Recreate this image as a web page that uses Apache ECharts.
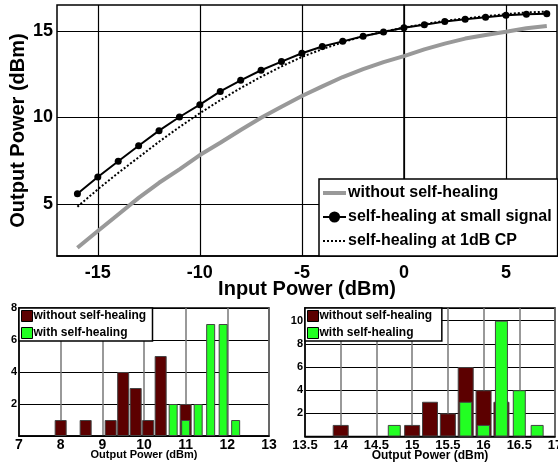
<!DOCTYPE html>
<html lang="en">
<head>
    <meta charset="utf-8"/>
    <title>Output power vs input power</title>
    <script src="https://cdn.jsdelivr.net/npm/echarts@6/dist/echarts.min.js"></script>
    <style>
        html, body {
            margin: 0;
            background: #FFFFFF;
        }

        #chart {
            width: 558px;
            height: 462px;
        }
    </style>
</head>
<body>
<div id="chart"></div>
<script>
    // top plot: output power against input power
    var inputPower = [-16, -15, -14, -13, -12, -11, -10, -9, -8, -7, -6, -5, -4, -3, -2, -1, 0, 1, 2, 3, 4, 5, 6, 7];
    var withoutHealing = [2.48, 3.44, 4.4, 5.36, 6.23, 7.0, 7.83, 8.54, 9.28, 9.99, 10.62, 11.24, 11.8, 12.34, 12.79, 13.2, 13.55, 13.94, 14.27, 14.56, 14.77, 14.96, 15.16, 15.29];
    var smallSignal = [5.6, 6.56, 7.47, 8.37, 9.24, 10.03, 10.74, 11.51, 12.15, 12.73, 13.23, 13.71, 14.1, 14.4, 14.69, 14.94, 15.19, 15.36, 15.54, 15.68, 15.79, 15.91, 15.96, 16.0];
    var oneDbCp = [4.85, 5.85, 6.8, 7.7, 8.6, 9.45, 10.25, 11.0, 11.7, 12.35, 12.95, 13.5, 13.95, 14.35, 14.7, 14.95, 15.2, 15.4, 15.58, 15.72, 15.85, 15.97, 16.07, 16.12];
    var inputTicks = [-15, -10, -5, 0, 5];
    var outputTicks = [5, 10, 15];

    // bottom left histogram
    var leftBinsOff = [8.0, 8.6, 9.2, 9.5, 9.8, 10.1, 10.4, 11.0];
    var leftCountsOff = [1, 1, 1, 4, 3, 1, 5, 2];
    var leftBinsOn = [10.7, 11.0, 11.3, 11.6, 11.9, 12.2];
    var leftCountsOn = [2, 1, 2, 7, 7, 1];

    // bottom right histogram
    var rightBinsOff = [14.0, 15.0, 15.25, 15.5, 15.75, 16.0, 16.25];
    var rightCountsOff = [1, 1, 3, 2, 6, 4, 3];
    var rightBinsOn = [14.75, 15.75, 16.0, 16.25, 16.5, 16.75];
    var rightCountsOn = [1, 3, 1, 10, 4, 1];

    function pairs(xs, ys) {
        return xs.map(function (x, i) {
            return [x, ys[i]]
        })
    }

    var font = 'Liberation Sans, Arial, sans-serif';
    var maroon = '#5C0000';
    var green = '#22FF22';
    var noSymbol = {color: 'rgba(0,0,0,0)', borderColor: 'rgba(0,0,0,0)', opacity: 0};

    function onStep(step) {
        return function (v) {
            var r = Math.abs(v / step - Math.round(v / step));
            return r < 1e-6 && v !== 0 ? String(v) : ''
        }
    }

    function histX(gridIndex, min, max, step, show, size, nameSize) {
        return {
            type: 'value', gridIndex: gridIndex, min: min, max: max, interval: step, show: show,
            axisLine: {lineStyle: {color: '#000', width: 1.5}},
            axisTick: {show: false},
            axisLabel: {
                color: '#000', fontWeight: 'bold', fontSize: size, fontFamily: font, margin: 2,
                showMinLabel: true, showMaxLabel: true,
                formatter: function (v) {
                    var r = Math.abs(v / step - Math.round(v / step));
                    return r < 1e-6 ? String(v) : ''
                }
            },
            splitLine: {show: true, lineStyle: {color: '#777', width: 1.5}},
            name: 'Output Power (dBm)', nameLocation: 'middle', nameGap: 13.5, nameMoveOverlap: false,
            nameTextStyle: {color: '#000', fontWeight: 'bold', fontSize: nameSize, fontFamily: font}
        }
    }

    function histY(gridIndex, max) {
        return {
            type: 'value', gridIndex: gridIndex, min: 0, max: max, interval: 2,
            axisLine: {show: true, lineStyle: {color: '#000', width: 1.5}},
            axisTick: {show: false},
            axisLabel: {color: '#000', fontWeight: 'bold', fontSize: 11, fontFamily: font, margin: 2, formatter: onStep(2)},
            splitLine: {show: true, lineStyle: {color: '#000', width: 1}}
        }
    }

    function histLegend(names, left) {
        return {
            data: names,
            orient: 'vertical', left: left, top: 308,
            padding: [2, 3, 2, 2], itemGap: 5, itemWidth: 11, itemHeight: 11, icon: 'rect',
            backgroundColor: '#FFFFFF', borderColor: '#000', borderWidth: 1.5,
            itemStyle: {borderColor: '#000', borderWidth: 1},
            textStyle: {color: '#000', fontWeight: 'bold', fontSize: 12, fontFamily: font, padding: [0, 0, 0, -4]}
        }
    }

    var chart = echarts.init(document.getElementById('chart'));
    chart.setOption({
        animation: false,
        backgroundColor: '#FFFFFF',
        grid: [
            {left: 57, top: 5, width: 500, height: 251, show: true, borderColor: '#000', borderWidth: 1.5, outerBoundsMode: 'none'},
            {left: 19, top: 308, width: 250, height: 128, show: true, borderColor: '#000', borderWidth: 1.5, outerBoundsMode: 'none'},
            {left: 305, top: 308, width: 250, height: 128.5, show: true, borderColor: '#000', borderWidth: 1.5, outerBoundsMode: 'none'}
        ],
        legend: [
            {
                data: [
                    {name: 'without self-healing', itemStyle: noSymbol, lineStyle: {color: '#999999', width: 4}},
                    {name: 'self-healing at small signal'},
                    {name: 'self-healing at 1dB CP', itemStyle: noSymbol, lineStyle: {color: '#000', width: 2, type: 'dotted'}}
                ],
                orient: 'vertical', left: 319, top: 179,
                padding: [6, 6, 7, 2], itemGap: 8, itemWidth: 23, itemHeight: 14,
                backgroundColor: '#FFFFFF', borderColor: '#000', borderWidth: 1.5,
                textStyle: {color: '#000', fontWeight: 'bold', fontSize: 16, fontFamily: font, padding: [0, 0, 0, -3]}
            },
            histLegend(['without self-healing ', 'with self-healing '], 19),
            histLegend(['without self-healing  ', 'with self-healing  '], 305)
        ],
        xAxis: [
            {
                type: 'value', gridIndex: 0, min: -17, max: 7.5,
                axisLine: {lineStyle: {color: '#000', width: 1.5}},
                axisTick: {show: false, customValues: inputTicks},
                axisLabel: {color: '#000', fontWeight: 'bold', fontSize: 18, fontFamily: font, margin: 8, customValues: inputTicks},
                splitLine: {show: true, lineStyle: {color: '#000', width: 1.2}},
                name: 'Input Power (dBm)', nameLocation: 'middle', nameGap: 23, nameMoveOverlap: false,
                nameTextStyle: {color: '#000', fontWeight: 'bold', fontSize: 20, fontFamily: font}
            },
            histX(1, 7, 13, 1, true, 14, 11),
            histX(1, 7, 13, 1, false, 14, 11),
            histX(2, 13.5, 17, 0.5, true, 13, 12),
            histX(2, 13.5, 17, 0.5, false, 13, 12)
        ],
        yAxis: [
            {
                type: 'value', gridIndex: 0, min: 2, max: 16.5,
                axisLine: {show: true, lineStyle: {color: '#000', width: 1.5}},
                axisTick: {show: false, customValues: outputTicks},
                axisLabel: {color: '#000', fontWeight: 'bold', fontSize: 18, fontFamily: font, margin: 4, customValues: outputTicks},
                splitLine: {show: true, lineStyle: {color: '#000', width: 1.2}},
                name: 'Output Power (dBm)', nameLocation: 'middle', nameGap: 29, nameRotate: 90, nameMoveOverlap: false,
                nameTextStyle: {color: '#000', fontWeight: 'bold', fontSize: 20, fontFamily: font}
            },
            histY(1, 8),
            histY(2, 11.1)
        ],
        series: [
            {
                name: 'without self-healing', type: 'line', xAxisIndex: 0, yAxisIndex: 0,
                data: pairs(inputPower, withoutHealing), symbol: 'none',
                lineStyle: {color: '#999999', width: 4}, itemStyle: {color: '#999999'}
            },
            {
                name: 'self-healing at 1dB CP', type: 'line', xAxisIndex: 0, yAxisIndex: 0,
                data: pairs(inputPower, oneDbCp), symbol: 'none',
                lineStyle: {color: '#000', width: 2, type: 'dotted'}, itemStyle: {color: '#000'}
            },
            {
                name: 'self-healing at small signal', type: 'line', xAxisIndex: 0, yAxisIndex: 0,
                data: pairs(inputPower, smallSignal), symbol: 'circle', symbolSize: 7, showAllSymbol: true,
                lineStyle: {color: '#000', width: 2}, itemStyle: {color: '#000'}
            },
            {
                name: 'without self-healing ', type: 'bar', xAxisIndex: 1, yAxisIndex: 1,
                data: pairs(leftBinsOff, leftCountsOff), barWidth: 12,
                itemStyle: {color: maroon, borderColor: '#444', borderWidth: 1}
            },
            {
                name: 'with self-healing ', type: 'bar', xAxisIndex: 2, yAxisIndex: 1,
                data: pairs(leftBinsOn, leftCountsOn), barWidth: 9, z: 3,
                itemStyle: {color: green, borderColor: '#444', borderWidth: 1}
            },
            {
                name: 'without self-healing  ', type: 'bar', xAxisIndex: 3, yAxisIndex: 2,
                data: pairs(rightBinsOff, rightCountsOff), barWidth: 16,
                itemStyle: {color: maroon, borderColor: '#444', borderWidth: 1}
            },
            {
                name: 'with self-healing  ', type: 'bar', xAxisIndex: 4, yAxisIndex: 2,
                data: pairs(rightBinsOn, rightCountsOn), barWidth: 13, z: 3,
                itemStyle: {color: green, borderColor: '#444', borderWidth: 1}
            }
        ]
    });
</script>
</body>
</html>
